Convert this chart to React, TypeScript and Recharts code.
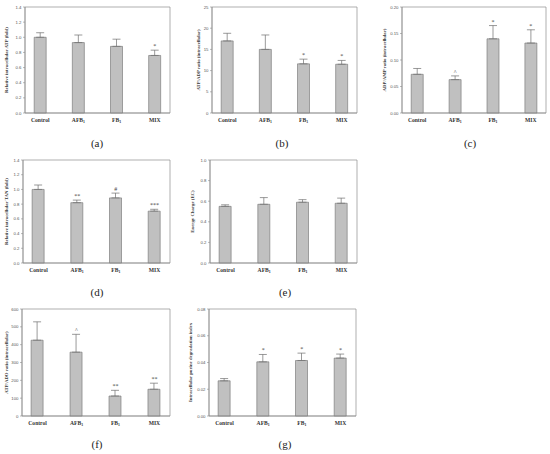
import React from 'react';
import { ComposedChart, Bar, ErrorBar, Scatter, XAxis, YAxis, ReferenceArea } from 'recharts';

const categories = ['Control', 'AFB', 'FB', 'MIX'];
const subscripts = ['', '1', '1', ''];

const atpMean = [1.0, 0.93, 0.88, 0.76];
const atpErr = [0.06, 0.1, 0.095, 0.07];
const atpSig = ['', '', '', '*'];
const atpTicks = [0, 0.2, 0.4, 0.6, 0.8, 1.0, 1.2, 1.4];

const atpAdpMean = [17.0, 15.0, 11.6, 11.5];
const atpAdpErr = [1.8, 3.4, 1.1, 0.9];
const atpAdpSig = ['', '', '*', '*'];
const atpAdpTicks = [0, 5, 10, 15, 20, 25];

const adpAmpMean = [0.073, 0.063, 0.14, 0.132];
const adpAmpErr = [0.011, 0.007, 0.025, 0.025];
const adpAmpSig = ['', '^', '*', '*'];
const adpAmpTicks = [0, 0.05, 0.1, 0.15, 0.2];

const tanMean = [1.0, 0.82, 0.885, 0.705];
const tanErr = [0.06, 0.035, 0.065, 0.025];
const tanSig = ['', '**', '#', '***'];
const tanTicks = [0, 0.2, 0.4, 0.6, 0.8, 1.0, 1.2, 1.4];

const ecMean = [0.55, 0.57, 0.59, 0.58];
const ecErr = [0.015, 0.065, 0.025, 0.05];
const ecSig = ['', '', '', ''];
const ecTicks = [0, 0.2, 0.4, 0.6, 0.8, 1.0];

const atpAdoMean = [425, 358, 112, 150];
const atpAdoErr = [103, 100, 32, 34];
const atpAdoSig = ['', '^', '**', '**'];
const atpAdoTicks = [0, 100, 200, 300, 400, 500, 600];

const purineMean = [0.0263, 0.0405, 0.0415, 0.0433];
const purineErr = [0.0017, 0.0055, 0.0055, 0.003];
const purineSig = ['', '*', '*', '*'];
const purineTicks = [0, 0.02, 0.04, 0.06, 0.08];

const panels = [
  { letter: '(a)', title: 'Relative intracellular ATP (fold)', mean: atpMean, err: atpErr, sig: atpSig, ticks: atpTicks, dec: 1, plot: [25, 7, 170, 113], titleX: 6, letterPos: [97, 143] },
  { letter: '(b)', title: 'ATP/ADP ratio (intracellular)', mean: atpAdpMean, err: atpAdpErr, sig: atpAdpSig, ticks: atpAdpTicks, dec: 0, plot: [212, 7, 357, 113], titleX: 198, letterPos: [282, 143] },
  { letter: '(c)', title: 'ADP/AMP ratio (intracellular)', mean: adpAmpMean, err: adpAmpErr, sig: adpAmpSig, ticks: adpAmpTicks, dec: 2, plot: [402, 7, 546, 113], titleX: 384, letterPos: [470, 143] },
  { letter: '(d)', title: 'Relative intracellular TAN (fold)', mean: tanMean, err: tanErr, sig: tanSig, ticks: tanTicks, dec: 1, plot: [23, 160, 170, 263], titleX: 6, letterPos: [97, 292] },
  { letter: '(e)', title: 'Energy Charge (EC)', mean: ecMean, err: ecErr, sig: ecSig, ticks: ecTicks, dec: 1, plot: [210, 160, 357, 263], titleX: 192, letterPos: [285, 292] },
  { letter: '(f)', title: 'ATP/ADO ratio (intracellular)', mean: atpAdoMean, err: atpAdoErr, sig: atpAdoSig, ticks: atpAdoTicks, dec: 0, plot: [22, 309, 170, 416], titleX: 6, letterPos: [97, 444] },
  { letter: '(g)', title: 'Intracellular purine degradation index', mean: purineMean, err: purineErr, sig: purineSig, ticks: purineTicks, dec: 2, plot: [209, 309, 356, 416], titleX: 190, letterPos: [285, 444] },
];

const serif = '"Liberation Serif", "Times New Roman", serif';

function CatTick({ x, y, payload }: any) {
  const i = payload.value;
  return (
    <text x={x} y={y + 7} textAnchor="middle" fontFamily={serif} fontSize={5.6} fontWeight="bold" fill="#333">
      {categories[i]}
      {subscripts[i] && <tspan dy={1.4} fontSize={3.8}>{subscripts[i]}</tspan>}
    </text>
  );
}

function SigShape({ cx, cy, payload }: any) {
  return (
    <text x={cx} y={cy - 2} textAnchor="middle" fontFamily={serif} fontSize={6} fill="#444">
      {payload.sig}
    </text>
  );
}

function Panel({ p }: any) {
  const data = categories.map((c, i) => ({
    x: i,
    mean: p.mean[i],
    err: [0, p.err[i]],
    top: p.mean[i] + p.err[i],
    sig: p.sig[i],
  }));
  const sigData = data.filter((d) => d.sig);
  const max = p.ticks[p.ticks.length - 1];
  const chartLeft = p.plot[0] - 25;
  const chartTop = p.plot[1] - 5;
  const width = p.plot[2] - chartLeft + 5;
  const height = p.plot[3] - chartTop + 20;
  const titleOffset = p.titleX - chartLeft;
  return (
    <div style={{ position: 'absolute', left: chartLeft, top: chartTop }}>
      <ComposedChart width={width} height={height} data={data} margin={{ top: 5, right: 5, left: 0, bottom: 0 }}>
        <XAxis
          dataKey="x"
          type="number"
          domain={[-0.4, 3.4]}
          ticks={[0, 1, 2, 3]}
          interval={0}
          tick={<CatTick />}
          tickLine={false}
          tickSize={0}
          axisLine={{ stroke: '#8c8c8c', strokeWidth: 0.7 }}
          height={20}
          allowDataOverflow
        />
        <YAxis
          type="number"
          domain={[0, max]}
          ticks={p.ticks}
          interval={0}
          width={25}
          tickSize={2}
          tickMargin={1.5}
          tickLine={{ stroke: '#8c8c8c', strokeWidth: 0.6 }}
          axisLine={{ stroke: '#8c8c8c', strokeWidth: 0.7 }}
          tick={{ fontSize: 4.3, fill: '#555', fontFamily: '"Liberation Sans", Arial, sans-serif' }}
          tickFormatter={(v: number) => v.toFixed(p.dec)}
          label={{
            value: p.title,
            angle: -90,
            position: 'insideLeft',
            offset: titleOffset,
            style: { textAnchor: 'middle', fontSize: 4.8, fontWeight: 'bold', fontFamily: serif, fill: '#333' },
          }}
        />
        <ReferenceArea x1={-0.4} x2={3.4} y1={0} y2={max} fill="none" stroke="#8c8c8c" strokeWidth={0.7} ifOverflow="visible" />
        <Bar dataKey="mean" barSize={12} fill="#c0c0c0" stroke="#6e6e6e" strokeWidth={0.6} isAnimationActive={false}>
          <ErrorBar dataKey="err" width={4} stroke="#6e6e6e" strokeWidth={0.7} direction="y" />
        </Bar>
        <Scatter data={sigData} dataKey="top" shape={<SigShape />} isAnimationActive={false} />
      </ComposedChart>
    </div>
  );
}

export default function App() {
  return (
    <div style={{ position: 'absolute', left: 0, top: 0, width: 550, height: 454, background: '#fff', overflow: 'hidden' }}>
      {panels.map((p) => (
        <React.Fragment key={p.letter}>
          <Panel p={p} />
          <div
            style={{
              position: 'absolute',
              left: p.letterPos[0] - 20,
              top: p.letterPos[1] - 8,
              width: 40,
              textAlign: 'center',
              fontFamily: serif,
              fontSize: 11,
              lineHeight: '16px',
              color: '#222',
            }}
          >
            {p.letter}
          </div>
        </React.Fragment>
      ))}
    </div>
  );
}
